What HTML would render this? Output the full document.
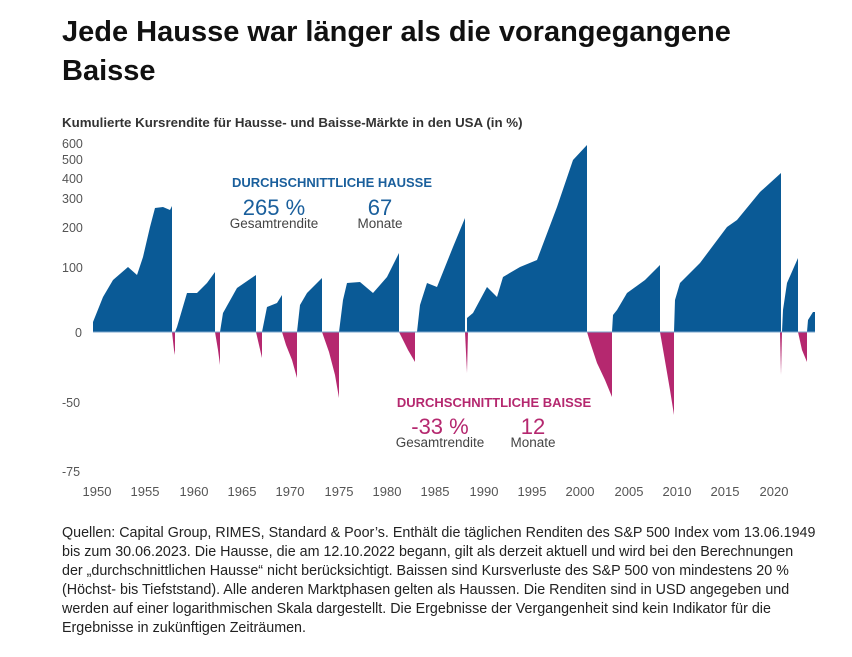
<!DOCTYPE html>
<html><head><meta charset="utf-8"><style>
body{margin:0;background:#fff;width:852px;height:657px;overflow:hidden;font-family:"Liberation Sans",sans-serif;}
.t{position:absolute;left:62px;top:13px;font-size:29px;font-weight:bold;color:#111;line-height:39px;white-space:nowrap;}
.foot{position:absolute;left:62px;top:524px;font-size:14.3px;line-height:19px;color:#222;white-space:nowrap;}
</style></head><body>
<div class="t">Jede Hausse war länger als die vorangegangene<br>Baisse</div>
<svg width="852" height="657" style="position:absolute;left:0;top:0" font-family="Liberation Sans, sans-serif">
<text x="62" y="127" font-size="13.3" font-weight="bold" fill="#333">Kumulierte Kursrendite für Hausse- und Baisse-Märkte in den USA (in %)</text>
<g font-size="12.5" fill="#555">
<text x="62" y="148">600</text><text x="62" y="164">500</text><text x="62" y="183">400</text><text x="62" y="203">300</text><text x="62" y="232">200</text><text x="62" y="272">100</text><text x="75" y="337">0</text><text x="62" y="407">-50</text><text x="62" y="476">-75</text>
</g>
<g font-size="13" fill="#555" text-anchor="middle">
<text x="97" y="496">1950</text><text x="145" y="496">1955</text><text x="194" y="496">1960</text><text x="242" y="496">1965</text><text x="290" y="496">1970</text><text x="339" y="496">1975</text><text x="387" y="496">1980</text><text x="435" y="496">1985</text><text x="484" y="496">1990</text><text x="532" y="496">1995</text><text x="580" y="496">2000</text><text x="629" y="496">2005</text><text x="677" y="496">2010</text><text x="725" y="496">2015</text><text x="774" y="496">2020</text>
</g>
<g fill="#0a5a96">
<polygon points="93,332 93,322 103,297 113,280 128,267 137,275 143,257 150,227 155,208 163,207 170,210 172,206 172,332"/>
<polygon points="175,332 177,327 187,293 197,293 207,283 215,272 215,332"/>
<polygon points="220,332 223,313 237,288 256,275 256,332"/>
<polygon points="262,332 267,307 277,303 282,295 282,332"/>
<polygon points="297,332 300,305 307,293 315,285 322,278 322,332"/>
<polygon points="339,332 343,300 347,283 360,282 373,293 387,277 399,253 399,332"/>
<polygon points="417,332 420,305 427,283 437,287 453,247 465,218 465,332"/>
<polygon points="467,332 467,318 473,313 487,287 497,297 503,277 520,267 537,260 557,207 573,160 587,145 587,332"/>
<polygon points="612,332 613,315 617,310 627,293 645,280 660,265 660,332"/>
<polygon points="674,332 675,300 680,283 700,263 727,227 737,220 760,192 781,173 781,332"/>
<polygon points="782,332 783,310 787,283 798,258 798,332"/>
<polygon points="807,332 808,320 813,312 815,312 815,332"/>
</g>
<g fill="#b5286f">
<polygon points="172,332 175,332 175,355 174,350"/>
<polygon points="215,332 220,332 220,365 218,350"/>
<polygon points="256,332 262,332 262,358 259,345"/>
<polygon points="282,332 297,332 297,378 292,360 286,345"/>
<polygon points="322,332 339,332 339,398 335,375 329,352"/>
<polygon points="399,332 415,332 415,362 408,350"/>
<polygon points="465,332 468,332 467,373"/>
<polygon points="587,332 612,332 612,397 605,380 597,363 590,342"/>
<polygon points="660,332 674,332 674,415 670,390 664,355"/>
<polygon points="780,332 782,332 781,375"/>
<polygon points="798,332 807,332 807,362 802,350"/>
</g>
<line x1="93" y1="332" x2="815" y2="332" stroke="#7aa6cc" stroke-width="1"/>
<text x="332" y="187" font-size="13" font-weight="bold" fill="#1a5f9c" text-anchor="middle">DURCHSCHNITTLICHE HAUSSE</text>
<text x="274" y="215" font-size="22" fill="#1a5f9c" text-anchor="middle">265 %</text>
<text x="380" y="215" font-size="22" fill="#1a5f9c" text-anchor="middle">67</text>
<text x="274" y="228" font-size="13.5" fill="#444" text-anchor="middle">Gesamtrendite</text>
<text x="380" y="228" font-size="13.5" fill="#444" text-anchor="middle">Monate</text>
<text x="494" y="407" font-size="13" font-weight="bold" fill="#b5286f" text-anchor="middle">DURCHSCHNITTLICHE BAISSE</text>
<text x="440" y="434" font-size="22" fill="#b5286f" text-anchor="middle">-33 %</text>
<text x="533" y="434" font-size="22" fill="#b5286f" text-anchor="middle">12</text>
<text x="440" y="447" font-size="13.5" fill="#444" text-anchor="middle">Gesamtrendite</text>
<text x="533" y="447" font-size="13.5" fill="#444" text-anchor="middle">Monate</text>
</svg>
<div class="foot">Quellen: Capital Group, RIMES, Standard &amp; Poor’s. Enthält die täglichen Renditen des S&amp;P 500 Index vom 13.06.1949<br>bis zum 30.06.2023. Die Hausse, die am 12.10.2022 begann, gilt als derzeit aktuell und wird bei den Berechnungen<br>der „durchschnittlichen Hausse“ nicht berücksichtigt. Baissen sind Kursverluste des S&amp;P 500 von mindestens 20 %<br>(Höchst- bis Tiefststand). Alle anderen Marktphasen gelten als Haussen. Die Renditen sind in USD angegeben und<br>werden auf einer logarithmischen Skala dargestellt. Die Ergebnisse der Vergangenheit sind kein Indikator für die<br>Ergebnisse in zukünftigen Zeiträumen.</div>
</body></html>
